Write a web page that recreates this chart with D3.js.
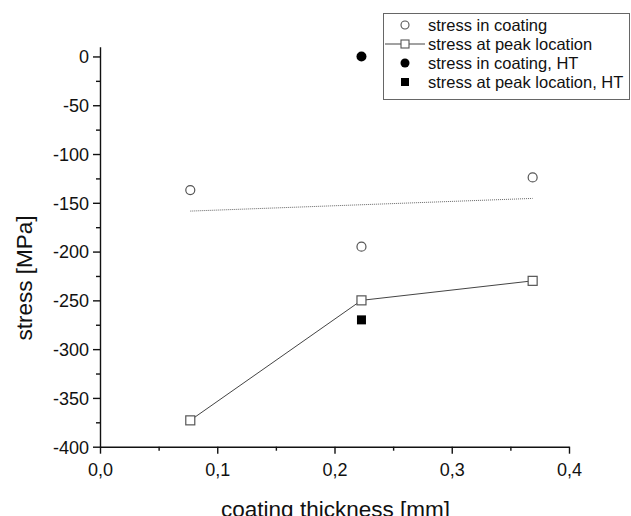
<!DOCTYPE html>
<html>
<head>
<meta charset="utf-8">
<script src="https://cdn.jsdelivr.net/npm/d3@7"></script>
<style>
  body { margin: 0; background: #fff; }
  svg { font-family: 'Liberation Sans', Arial, sans-serif; }
</style>
</head>
<body>
<svg id="chart"></svg>
<script>
// coating thickness [mm]
const thickness = [0.077, 0.223, 0.369]
// stress in coating [MPa]
const coatingStress = [-137, -195, -124]
// stress at peak location [MPa]
const peakStress = [-373, -250, -230]
// heat treated samples
const htThickness = [0.223]
const htCoatingStress = [0]
const htPeakStress = [-270]

const xTicks = [0, 0.1, 0.2, 0.3, 0.4]
const yTicks = [0, -50, -100, -150, -200, -250, -300, -350, -400]
const legendLabels = ['stress in coating', 'stress at peak location',
                      'stress in coating, HT', 'stress at peak location, HT']

let w = 631
let h = 516
const gray = '#555'

let svg = d3.select('#chart').attr('width', w).attr('height', h)

let x = d3.scaleLinear([0, 0.4], [100, 569])
let y = d3.scaleLinear([-400, 10], [446.7, 46.7])

const fmt = d => d3.format('.1f')(d).replace('.', ',')

// axes
let xAxis = svg.append('g')
  .attr('transform', `translate(0, ${y(-400)})`)
  .call(d3.axisBottom(x).tickValues(xTicks).tickFormat(fmt).tickSize(7).tickSizeOuter(0))
xAxis.append('g')
  .call(d3.axisBottom(x).tickValues(d3.range(0.05, 0.4, 0.1)).tickFormat('').tickSize(4))
  .select('.domain').remove()

let yAxis = svg.append('g')
  .attr('transform', `translate(${x(0)}, 0)`)
  .call(d3.axisLeft(y).tickValues(yTicks).tickFormat(d => String(d)).tickSize(7).tickSizeOuter(0).tickPadding(4))
yAxis.append('g')
  .call(d3.axisLeft(y).tickValues(d3.range(-375, 0, 50)).tickFormat('').tickSize(4))
  .select('.domain').remove()

svg.selectAll('.domain, .tick line').attr('stroke', '#111').attr('stroke-width', 1.4)
svg.selectAll('.tick text').attr('font-size', 18).attr('fill', '#111')
xAxis.selectAll('.tick text').attr('dy', '1.05em')
yAxis.selectAll('.tick text').attr('dy', '0.35em')

svg.append('text')
  .attr('x', (x(0) + x(0.4)) / 2 + 1)
  .attr('y', 517)
  .attr('text-anchor', 'middle')
  .attr('font-size', 22.5)
  .attr('fill', '#111')
  .text('coating thickness [mm]')

svg.append('text')
  .attr('transform', `translate(32, 278) rotate(-90)`)
  .attr('text-anchor', 'middle')
  .attr('font-size', 22.5)
  .attr('fill', '#111')
  .text('stress [MPa]')

// linear fit through the coating stress values
let fit = d3.range(thickness.length).map(i => [thickness[i], coatingStress[i]])
let mx = d3.mean(thickness), my = d3.mean(coatingStress)
let slope = d3.sum(fit, d => (d[0] - mx) * (d[1] - my)) / d3.sum(fit, d => (d[0] - mx) ** 2)
let x0 = d3.min(thickness), x1 = d3.max(thickness)

svg.append('line')
  .attr('x1', x(x0)).attr('y1', y(my + slope * (x0 - mx)))
  .attr('x2', x(x1)).attr('y2', y(my + slope * (x1 - mx)))
  .attr('stroke', '#666')
  .attr('stroke-width', 1)
  .attr('stroke-dasharray', '1,1')

// peak stress line
let line = d3.line().x(d => x(d[0])).y(d => y(d[1]))
svg.append('path')
  .datum(d3.zip(thickness, peakStress))
  .attr('d', line)
  .attr('fill', 'none')
  .attr('stroke', '#444')
  .attr('stroke-width', 1)

let sq = 9
svg.append('g').selectAll('rect')
  .data(d3.zip(thickness, peakStress))
  .enter().append('rect')
  .attr('x', d => x(d[0]) - sq / 2)
  .attr('y', d => y(d[1]) - sq / 2)
  .attr('width', sq).attr('height', sq)
  .attr('fill', '#fff').attr('stroke', gray).attr('stroke-width', 1.2)

svg.append('g').selectAll('circle')
  .data(d3.zip(thickness, coatingStress))
  .enter().append('circle')
  .attr('cx', d => x(d[0]))
  .attr('cy', d => y(d[1]))
  .attr('r', 4.5)
  .attr('fill', '#fff').attr('stroke', gray).attr('stroke-width', 1.2)

svg.append('g').selectAll('circle')
  .data(d3.zip(htThickness, htCoatingStress))
  .enter().append('circle')
  .attr('cx', d => x(d[0]))
  .attr('cy', d => y(d[1]))
  .attr('r', 5)
  .attr('fill', '#000')

svg.append('g').selectAll('rect')
  .data(d3.zip(htThickness, htPeakStress))
  .enter().append('rect')
  .attr('x', d => x(d[0]) - 4.5)
  .attr('y', d => y(d[1]) - 4.5)
  .attr('width', 9).attr('height', 9)
  .attr('fill', '#000')

// legend
let legend = svg.append('g')
legend.append('rect')
  .attr('x', 383.5).attr('y', 13.5)
  .attr('width', 246).attr('height', 86)
  .attr('fill', '#fff').attr('stroke', '#666').attr('stroke-width', 1)

let rows = legend.selectAll('g.row')
  .data(legendLabels)
  .enter().append('g')
  .attr('class', 'row')
  .attr('transform', (d, i) => `translate(405, ${25 + i * 19})`)

rows.append('text')
  .attr('x', 23).attr('dy', '0.35em')
  .attr('font-size', 16.5)
  .attr('fill', '#111')
  .text(d => d)

rows.each(function(d, i) {
  let g = d3.select(this)
  if (i == 0) g.append('circle').attr('r', 4).attr('fill', '#fff').attr('stroke', gray).attr('stroke-width', 1.1)
  if (i == 1) {
    g.append('line').attr('x1', -20).attr('x2', 20).attr('stroke', '#444').attr('stroke-width', 1)
    g.append('rect').attr('x', -4).attr('y', -4).attr('width', 8).attr('height', 8)
      .attr('fill', '#fff').attr('stroke', gray).attr('stroke-width', 1.1)
  }
  if (i == 2) g.append('circle').attr('r', 4.5).attr('fill', '#000')
  if (i == 3) g.append('rect').attr('x', -4).attr('y', -4).attr('width', 8).attr('height', 8).attr('fill', '#000')
})
</script>
</body>
</html>
